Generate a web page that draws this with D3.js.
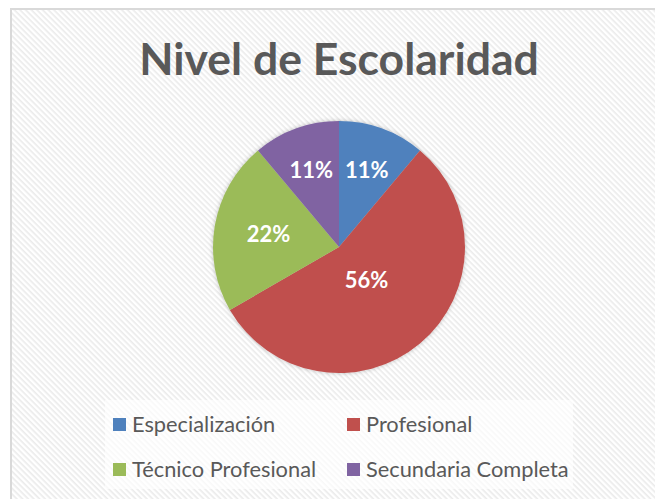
<!DOCTYPE html>
<html>
<head>
<meta charset="utf-8">
<script src="https://cdn.jsdelivr.net/npm/d3@7"></script>
<style>
  html, body { margin: 0; padding: 0; background: #fff; }
  svg { display: block; }
</style>
</head>
<body>
<svg id="chart" width="655" height="499"></svg>
<script>
// data (counts out of 9 people)
var categories = ["Especialización", "Profesional", "Técnico Profesional", "Secundaria Completa"];
var values = [1, 5, 2, 1];
var colors = ["#4F81BD", "#C0504D", "#9BBB59", "#8064A2"];
var title = "Nivel de Escolaridad";

var svg = d3.select("#chart");
var width = +svg.attr("width");
var height = +svg.attr("height");

var cx = 339, cy = 247, radius = 126;

// striped background like the excel chart area
var defs = svg.append("defs");
var pat = defs.append("pattern")
    .attr("id", "stripes")
    .attr("patternUnits", "userSpaceOnUse")
    .attr("width", 4)
    .attr("height", 4)
    .attr("patternTransform", "rotate(45)");
pat.append("rect").attr("width", 4).attr("height", 4).attr("fill", "#ffffff");
pat.append("rect").attr("width", 4).attr("height", 1.6).attr("fill", "#ebebeb");

var shadow = defs.append("filter")
    .attr("id", "shadow")
    .attr("x", "-20%").attr("y", "-20%")
    .attr("width", "140%").attr("height", "140%");
shadow.append("feDropShadow")
    .attr("dx", 0).attr("dy", 0)
    .attr("stdDeviation", 2)
    .attr("flood-color", "#000")
    .attr("flood-opacity", 0.25);

svg.append("rect")
    .attr("x", 11)
    .attr("y", 9)
    .attr("width", width + 20)
    .attr("height", height + 20)
    .attr("fill", "url(#stripes)")
    .attr("stroke", "#d9d9d9")
    .attr("stroke-width", 2);

// title
svg.append("text")
    .attr("x", cx)
    .attr("y", 75)
    .attr("text-anchor", "middle")
    .attr("font-family", "Lato, 'Open Sans', sans-serif")
    .attr("font-weight", "bold")
    .attr("font-size", 44.5)
    .attr("fill", "#595959")
    .text(title);

// pie
var total = d3.sum(values);
var pie = d3.pie().sort(null).value(function(d) { return d; });
var arcs = pie(values);

var arc = d3.arc().innerRadius(0).outerRadius(radius);

var g = svg.append("g")
    .attr("transform", "translate(" + cx + "," + cy + ")");

g.append("g")
    .attr("filter", "url(#shadow)")
    .selectAll("path")
    .data(arcs)
    .enter().append("path")
    .attr("d", arc)
    .attr("fill", function(d, i) { return colors[i]; });

// labels: bigger slices get pulled towards the centre (excel best fit)
g.selectAll(".lbl")
    .data(arcs)
    .enter().append("text")
    .attr("class", "lbl")
    .attr("transform", function(d) {
      var span = (d.endAngle - d.startAngle) * 180 / Math.PI;
      var r = radius * (0.72 - 0.0019 * span);
      var c = d3.arc().innerRadius(r).outerRadius(r).centroid(d);
      return "translate(" + c[0] + "," + c[1] + ")";
    })
    .attr("text-anchor", "middle")
    .attr("dy", "0.35em")
    .attr("font-family", "Lato, 'Open Sans', sans-serif")
    .attr("font-weight", "bold")
    .attr("font-size", 22)
    .attr("fill", "#ffffff")
    .text(function(d) { return Math.round(d.data / total * 100) + "%"; });

// legend
var legend = svg.append("g");
legend.append("rect")
    .attr("x", 105)
    .attr("y", 400)
    .attr("width", 468)
    .attr("height", 89)
    .attr("fill", "#ffffff")
    .attr("fill-opacity", 0.65);

var item = legend.selectAll(".item")
    .data(categories)
    .enter().append("g")
    .attr("class", "item")
    .attr("transform", function(d, i) {
      return "translate(" + (113 + (i % 2) * 234) + "," + (418 + Math.floor(i / 2) * 45) + ")";
    });

item.append("rect")
    .attr("width", 13)
    .attr("height", 13)
    .attr("fill", function(d, i) { return colors[i]; });

item.append("text")
    .attr("x", 19)
    .attr("y", 14)
    .attr("font-family", "Lato, 'Open Sans', sans-serif")
    .attr("font-size", 21.8)
    .attr("fill", "#595959")
    .text(function(d) { return d; });
</script>
</body>
</html>
